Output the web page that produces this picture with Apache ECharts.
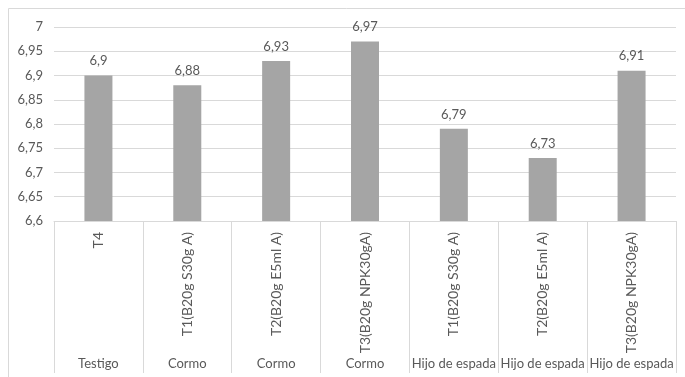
<!DOCTYPE html>
<html>
<head>
<meta charset="utf-8">
<script src="https://cdn.jsdelivr.net/npm/echarts@6/dist/echarts.min.js"></script>
<style>
html,body{margin:0;padding:0;background:#fff;}
#c{width:685px;height:377px;}
</style>
</head>
<body>
<div id="c"></div>
<script>
var treatments = ["T4", "T1(B20g S30g A)", "T2(B20g E5ml A)", "T3(B20g NPK30gA)", "T1(B20g S30g A)", "T2(B20g E5ml A)", "T3(B20g NPK30gA)"];
var groups = ["Testigo", "Cormo", "Cormo", "Cormo", "Hijo de espada", "Hijo de espada", "Hijo de espada"];
var values = [6.9, 6.88, 6.93, 6.97, 6.79, 6.73, 6.91];
var yTicks = { min: 6.6, max: 7, interval: 0.05 };

function fmt(v) {
  var s = (+v.toFixed(2)).toString();
  return s.replace('.', ',');
}

var FONT = 'Lato';
var chart = echarts.init(document.getElementById('c'));
chart.setOption({
  animation: false,
  textStyle: { fontFamily: FONT },
  graphic: [{
    type: 'polyline',
    shape: { points: [[8.5, 377], [8.5, 8.5], [685, 8.5]] },
    style: { stroke: '#d9d9d9', fill: null, lineWidth: 1 },
    silent: true
  }],
  grid: { left: 54, right: 9, top: 27, bottom: 156 },
  xAxis: [{
    type: 'category',
    data: treatments,
    axisLine: { show: true, lineStyle: { color: '#d9d9d9' } },
    axisTick: { show: true, length: 152, interval: 0, lineStyle: { color: '#d9d9d9' } },
    axisLabel: { rotate: 90, interval: 0, margin: 11, color: '#595959', fontSize: 14, fontFamily: FONT }
  }, {
    type: 'category',
    data: groups,
    position: 'bottom',
    offset: 128,
    axisLine: { show: false },
    axisTick: { show: false },
    axisLabel: { interval: 0, margin: 8, color: '#595959', fontSize: 13, fontFamily: FONT }
  }],
  yAxis: {
    type: 'value',
    min: yTicks.min, max: yTicks.max, interval: yTicks.interval,
    axisLine: { show: false },
    axisTick: { show: false },
    splitLine: { lineStyle: { color: '#d9d9d9' } },
    axisLabel: { margin: 11, color: '#595959', fontSize: 13, fontFamily: FONT, formatter: fmt }
  },
  series: [{
    type: 'bar',
    data: values,
    xAxisIndex: 0,
    barWidth: 28,
    itemStyle: { color: '#a5a5a5' },
    label: { show: true, position: 'top', distance: 8, color: '#595959', fontSize: 13, fontFamily: FONT, formatter: function (p) { return fmt(p.value); } }
  }]
});
</script>
</body>
</html>
